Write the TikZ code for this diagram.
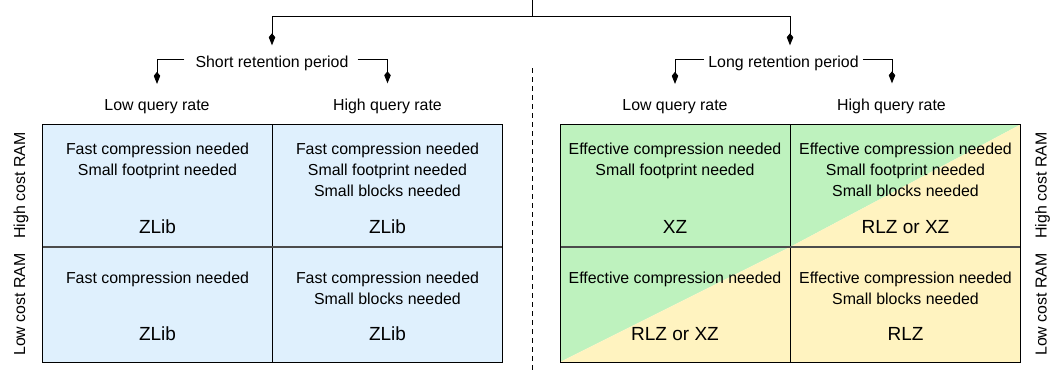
\documentclass[tikz,border=0pt]{standalone}
\usepackage{fontspec}
\setmainfont{Liberation Sans}
\usetikzlibrary{arrows.meta}
\definecolor{shortfill}{HTML}{DFF0FD}
\definecolor{effgreen}{HTML}{BEF2BE}
\definecolor{rlzyellow}{HTML}{FFF3C0}
\begin{document}
\begin{tikzpicture}[x=1pt,y=-1pt,
  lbl/.style={font=\fontsize{15.9}{19}\selectfont, inner sep=0pt, anchor=base},
  cellline/.style={font=\fontsize{15.9}{19}\selectfont, inner sep=0pt, anchor=base},
  verdict/.style={font=\fontsize{19}{23}\selectfont, inner sep=0pt, anchor=base},
  ramlbl/.style={font=\fontsize{15.9}{19}\selectfont, inner sep=0pt, anchor=base, rotate=90},
  conn/.style={line width=0.9pt, -{Kite[length=12pt,width=6.5pt,inset=4pt]}},
  border/.style={line width=0.9pt, black},
  colline/.style={line width=0.9pt, black},
  rowline/.style={line width=1.1pt, black!70},
  sep/.style={line width=0.9pt, dash pattern=on 5pt off 4pt},
]
\useasboundingbox (0,0) rectangle (1050,370);

% ---- short retention: uniform blue table ----
\fill[shortfill] (42.5,124.5) rectangle (502,362);
\draw[colline] (272.5,124.5) -- (272.5,362);
\draw[rowline] (42.5,247) -- (502,247);
\draw[border] (42.5,124.5) rectangle (502,362);

% ---- long retention: green / yellow split along each diagonal cell ----
\fill[effgreen] (560,124.5) -- (1020.5,124.5) -- (790,247) -- (560,362) -- cycle;
\fill[rlzyellow] (560,362) -- (790,247) -- (1020.5,124.5) -- (1020.5,362) -- cycle;
\draw[colline] (790,124.5) -- (790,362);
\draw[rowline] (560,247) -- (1020.5,247);
\draw[border] (560,124.5) rectangle (1020.5,362);

% ---- separator between the two halves ----
\coordinate (septop) at (532,68);
\coordinate (sepbot) at (532,370);
\draw[sep] (septop) -- (sepbot);

% ---- decision tree ----
\coordinate (root) at (532,0);
\node[lbl] (short) at (272,67) {Short retention period};
\node[lbl] (long) at (783.5,67) {Long retention period};
\node[lbl] (slow) at (157,110) {Low query rate};
\node[lbl] (shigh) at (387.5,110) {High query rate};
\node[lbl] (llow) at (675,110) {Low query rate};
\node[lbl] (lhigh) at (891.5,110) {High query rate};

\draw[conn] (root) -- ++(0,16) -| ([yshift=10pt]short.north);
\draw[conn] (root) -- ++(0,16) -| ([xshift=6.5pt,yshift=10pt]long.north);
\draw[conn] ([xshift=-11pt,yshift=3pt]short.west) -| ([yshift=15pt]slow.north);
\draw[conn] ([xshift=9pt,yshift=3pt]short.east) -| ([yshift=15pt]shigh.north);
\draw[conn] ([xshift=-4pt,yshift=3pt]long.west) -| ([yshift=15pt]llow.north);
\draw[conn] ([xshift=4pt,yshift=3pt]long.east) -| ([xshift=0.5pt,yshift=15pt]lhigh.north);

% ---- row labels ----
\node[ramlbl] (hiL) at (25,185.5) {High cost RAM};
\node[ramlbl] (loL) at (25,304.5) {Low cost RAM};
\node[ramlbl] (hiR) at (1046.5,185.5) {High cost RAM};
\node[ramlbl] (loR) at (1046.5,304.5) {Low cost RAM};

% ---- short retention, low query rate ----
\node[cellline] (a1) at (157.5,154) {Fast compression needed};
\node[cellline] (a2) at (157.5,175) {Small footprint needed};
\node[verdict] (av) at (157.5,233.5) {ZLib};
\node[cellline] (c1) at (157.5,283) {Fast compression needed};
\node[verdict] (cv) at (157.5,340.5) {ZLib};

% ---- short retention, high query rate ----
\node[cellline] (b1) at (387.5,154) {Fast compression needed};
\node[cellline] (b2) at (387.5,175) {Small footprint needed};
\node[cellline] (b3) at (387.5,196) {Small blocks needed};
\node[verdict] (bv) at (387.5,233.5) {ZLib};
\node[cellline] (d1) at (387.5,283) {Fast compression needed};
\node[cellline] (d2) at (387.5,304) {Small blocks needed};
\node[verdict] (dv) at (387.5,340.5) {ZLib};

% ---- long retention, low query rate ----
\node[cellline] (e1) at (675,154) {Effective compression needed};
\node[cellline] (e2) at (675,175) {Small footprint needed};
\node[verdict] (ev) at (675,233.5) {XZ};
\node[cellline] (g1) at (675,283) {Effective compression needed};
\node[verdict] (gv) at (675,340.5) {RLZ or XZ};

% ---- long retention, high query rate ----
\node[cellline] (f1) at (905.5,154) {Effective compression needed};
\node[cellline] (f2) at (905.5,175) {Small footprint needed};
\node[cellline] (f3) at (905.5,196) {Small blocks needed};
\node[verdict] (fv) at (905.5,233.5) {RLZ or XZ};
\node[cellline] (h1) at (905.5,283) {Effective compression needed};
\node[cellline] (h2) at (905.5,304) {Small blocks needed};
\node[verdict] (hv) at (905.5,340.5) {RLZ};
\end{tikzpicture}
\end{document}
